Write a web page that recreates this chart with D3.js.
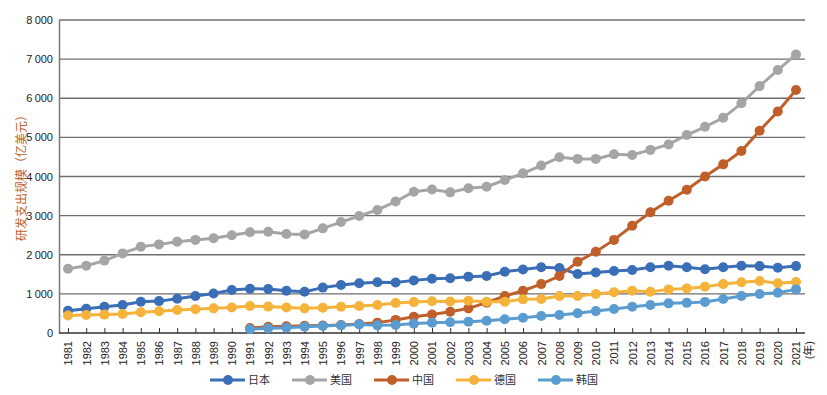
<!DOCTYPE html>
<html lang="zh">
<head>
  <meta charset="UTF-8">
  <title>研发支出规模</title>
  <script src="https://d3js.org/d3.v7.min.js"></script>
  <style>
    body {
      margin: 0;
      background: #fff;
      font-family: "Liberation Sans", Arial, "Noto Sans CJK SC", sans-serif;
    }

    svg {
      display: block;
    }

    .axis text {
      font-size: 11px;
      fill: #222;
    }
  </style>
</head>
<body>
  <svg id="chart"></svg>

  <script>
    // 年份（横轴刻度）
    const years = [1981, 1982, 1983, 1984, 1985, 1986, 1987, 1988, 1989, 1990,
      1991, 1992, 1993, 1994, 1995, 1996, 1997, 1998, 1999, 2000,
      2001, 2002, 2003, 2004, 2005, 2006, 2007, 2008, 2009, 2010,
      2011, 2012, 2013, 2014, 2015, 2016, 2017, 2018, 2019, 2020, 2021];

    // 纵轴刻度
    const yTicks = [0, 1000, 2000, 3000, 4000, 5000, 6000, 7000, 8000];

    // 各国研发支出（亿美元），null 表示无数据
    const japan = [570, 620, 670, 715, 800, 815, 875, 945, 1010, 1100,
      1130, 1125, 1080, 1055, 1160, 1225, 1270, 1295, 1290, 1345,
      1385, 1400, 1440, 1455, 1565, 1625, 1680, 1660, 1510, 1545,
      1585, 1610, 1680, 1720, 1680, 1630, 1680, 1720, 1710, 1670, 1710];

    const usa = [1640, 1720, 1850, 2035, 2205, 2265, 2335, 2380, 2420, 2500,
      2575, 2590, 2530, 2520, 2675, 2835, 2990, 3145, 3360, 3610,
      3670, 3595, 3700, 3740, 3910, 4080, 4280, 4490, 4450, 4450,
      4570, 4550, 4680, 4820, 5060, 5270, 5500, 5870, 6310, 6720, 7120];

    const china = [null, null, null, null, null, null, null, null, null, null,
      130, 160, 170, 185, 190, 205, 230, 265, 335, 415,
      475, 545, 630, 775, 945, 1080, 1250, 1455, 1820, 2075,
      2380, 2740, 3085, 3380, 3660, 4000, 4310, 4650, 5170, 5660, 6210];

    const germany = [445, 460, 470, 485, 530, 555, 590, 610, 630, 650,
      690, 675, 650, 630, 645, 670, 690, 715, 765, 790,
      810, 805, 825, 800, 800, 860, 870, 945, 945, 995,
      1040, 1080, 1055, 1115, 1140, 1185, 1250, 1295, 1330, 1270, 1305];

    const korea = [null, null, null, null, null, null, null, null, null, null,
      95, 120, 135, 160, 180, 195, 220, 195, 205, 240,
      265, 275, 290, 315, 350, 390, 435, 460, 505, 560,
      613, 673, 716, 758, 770, 795, 870, 946, 997, 1030, 1115];

    const seriesNames = ["日本", "美国", "中国", "德国", "韩国"];
    const seriesValues = [japan, usa, china, germany, korea];
    const colors = ["#3a6fb7", "#a5a5a5", "#c15f2a", "#f5b33b", "#5a9bd0"];

    const W = 827, H = 395;
    const plotLeft = 59, plotRight = 805, plotTop = 20, plotBottom = 333;

    const svg = d3.select("#chart")
      .attr("width", W)
      .attr("height", H);

    const x = d3.scaleLinear()
      .domain([1981, 2021])
      .range([68, 796]);

    const y = d3.scaleLinear()
      .domain([0, 8000])
      .range([plotBottom, plotTop]);

    // 网格线
    svg.append("g")
      .selectAll("line")
      .data(yTicks.filter(d => d > 0))
      .enter().append("line")
      .attr("x1", plotLeft)
      .attr("x2", plotRight)
      .attr("y1", d => y(d))
      .attr("y2", d => y(d))
      .attr("stroke", "#6e6e6e")
      .attr("stroke-width", 1.4);

    // Y 轴
    const fmt = d => d === 0 ? "0" : String(d).replace(/(\d)(\d{3})$/, "$1\u2009$2");
    const yAxis = svg.append("g")
      .attr("class", "axis")
      .attr("transform", `translate(${plotLeft},0)`)
      .call(d3.axisLeft(y).tickValues(yTicks).tickSize(0).tickPadding(6).tickFormat(fmt));
    yAxis.select(".domain").attr("stroke", "#777").attr("stroke-width", 1.5);

    // X 轴
    const xAxis = svg.append("g")
      .attr("class", "axis")
      .attr("transform", `translate(0,${plotBottom})`)
      .call(d3.axisBottom(x).tickValues(years).tickSize(-5).tickFormat(d3.format("d")));
    xAxis.select(".domain").remove();
    xAxis.append("line")
      .attr("x1", plotLeft).attr("x2", plotRight)
      .attr("stroke", "#333").attr("stroke-width", 1.5);
    xAxis.selectAll(".tick line").attr("stroke", "#333");
    xAxis.selectAll(".tick text")
      .attr("transform", "rotate(-90)")
      .attr("text-anchor", "end")
      .attr("x", -8)
      .attr("y", 0)
      .attr("dy", "0.35em");

    // “(年)” 标注
    svg.append("text")
      .attr("transform", `translate(${x(2021) + 13},${plotBottom + 8}) rotate(-90)`)
      .attr("text-anchor", "end")
      .attr("dy", "0.35em")
      .style("font-size", "11px")
      .attr("fill", "#222")
      .text("(年)");

    // 纵轴标题
    svg.append("text")
      .attr("transform", `translate(22,175) rotate(-90)`)
      .attr("text-anchor", "middle")
      .attr("dy", "0.35em")
      .style("font-size", "12px")
      .attr("fill", "#c15f2a")
      .text("研发支出规模（亿美元）");

    // 折线和圆点
    const line = d3.line()
      .defined(d => d.v !== null)
      .x(d => x(d.year))
      .y(d => y(d.v));

    seriesValues.forEach((vals, i) => {
      const pts = years.map((yr, j) => ({ year: yr, v: vals[j] }));
      const g = svg.append("g");
      g.append("path")
        .datum(pts)
        .attr("d", line)
        .attr("fill", "none")
        .attr("stroke", colors[i])
        .attr("stroke-width", 3);
      g.selectAll("circle")
        .data(pts.filter(d => d.v !== null))
        .enter().append("circle")
        .attr("cx", d => x(d.year))
        .attr("cy", d => y(d.v))
        .attr("r", 5)
        .attr("fill", colors[i]);
    });

    // 图例
    const legend = svg.append("g")
      .attr("transform", "translate(210,380)");

    seriesNames.forEach((name, i) => {
      const item = legend.append("g")
        .attr("transform", `translate(${i * 82},0)`);
      item.append("line")
        .attr("x1", 0).attr("x2", 35)
        .attr("stroke", colors[i])
        .attr("stroke-width", 3);
      item.append("circle")
        .attr("cx", 18).attr("r", 5)
        .attr("fill", colors[i]);
      item.append("text")
        .attr("x", 38)
        .attr("dy", "0.35em")
        .style("font-size", "11px")
        .attr("fill", "#333")
        .text(name);
    });
  </script>
</body>
</html>
